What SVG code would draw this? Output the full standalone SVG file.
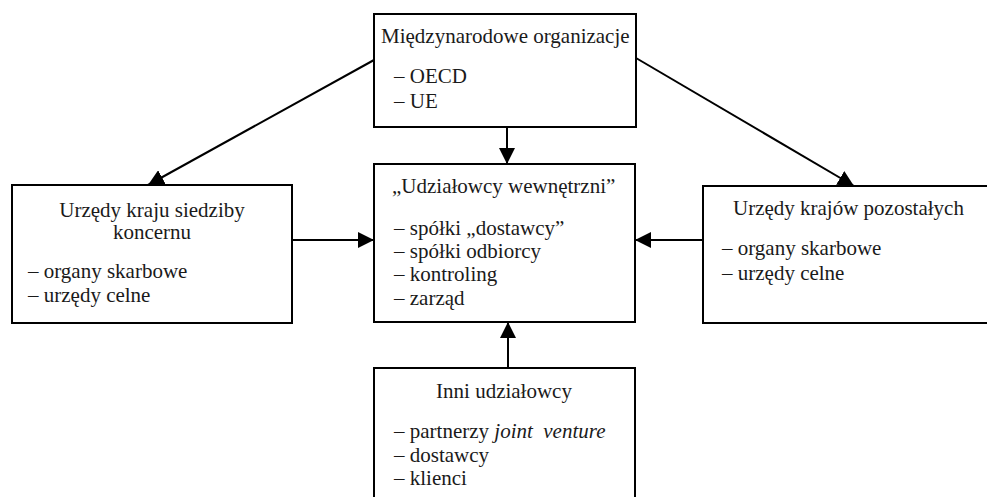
<svg xmlns="http://www.w3.org/2000/svg" width="987" height="497" viewBox="0 0 987 497">
<style>
.box{fill:#fff;stroke:#000;stroke-width:2}
text{font-family:"Liberation Serif","Times New Roman",serif;font-size:21px;fill:#1a1a1a}
.c{text-anchor:middle}
.ln{stroke:#000;stroke-width:2;fill:none;marker-end:url(#ah)}
</style>
<defs>
<marker id="ah" markerUnits="userSpaceOnUse" markerWidth="16" markerHeight="16" viewBox="0 0 16 16" refX="16" refY="8" orient="auto">
<path d="M0,0 L16,8 L0,16 Z" fill="#000"/>
</marker>
</defs>
<g id="connectors">
<line class="ln" x1="374" y1="60" x2="148" y2="185"/>
<line class="ln" x1="636" y1="58" x2="854" y2="186"/>
<line class="ln" x1="507" y1="127" x2="507" y2="164"/>
<line class="ln" x1="292" y1="240" x2="374" y2="240"/>
<line class="ln" x1="703" y1="240" x2="635" y2="240"/>
<line class="ln" x1="508" y1="368" x2="508" y2="322"/>
</g>
<g id="n_top">
<rect class="box" x="374" y="14" width="262" height="113"/>
<text x="381" y="43">Międzynarodowe organizacje</text>
<text x="394" y="83">– OECD</text>
<text x="394" y="108">– UE</text>
</g>
<g id="n_center">
<rect class="box" x="374" y="164" width="261" height="158"/>
<text x="392" y="193">„Udziałowcy wewnętrzni”</text>
<text x="394" y="235">– spółki „dostawcy”</text>
<text x="394" y="258">– spółki odbiorcy</text>
<text x="394" y="281">– kontroling</text>
<text x="394" y="305">– zarząd</text>
</g>
<g id="n_left">
<rect class="box" x="12" y="185" width="280" height="138"/>
<text class="c" x="152" y="217">Urzędy kraju siedziby</text>
<text class="c" x="152" y="239">koncernu</text>
<text x="28" y="278">– organy skarbowe</text>
<text x="28" y="302">– urzędy celne</text>
</g>
<g id="n_right">
<rect class="box" x="703" y="186" width="300" height="137"/>
<text x="733" y="215">Urzędy krajów pozostałych</text>
<text x="722" y="255">– organy skarbowe</text>
<text x="722" y="280">– urzędy celne</text>
</g>
<g id="n_bottom">
<rect class="box" x="374" y="368" width="261" height="140"/>
<text class="c" x="504" y="398">Inni udziałowcy</text>
<text x="394" y="438" xml:space="preserve">– partnerzy <tspan font-style="italic">joint  venture</tspan></text>
<text x="394" y="462">– dostawcy</text>
<text x="394" y="485">– klienci</text>
</g>
</svg>
